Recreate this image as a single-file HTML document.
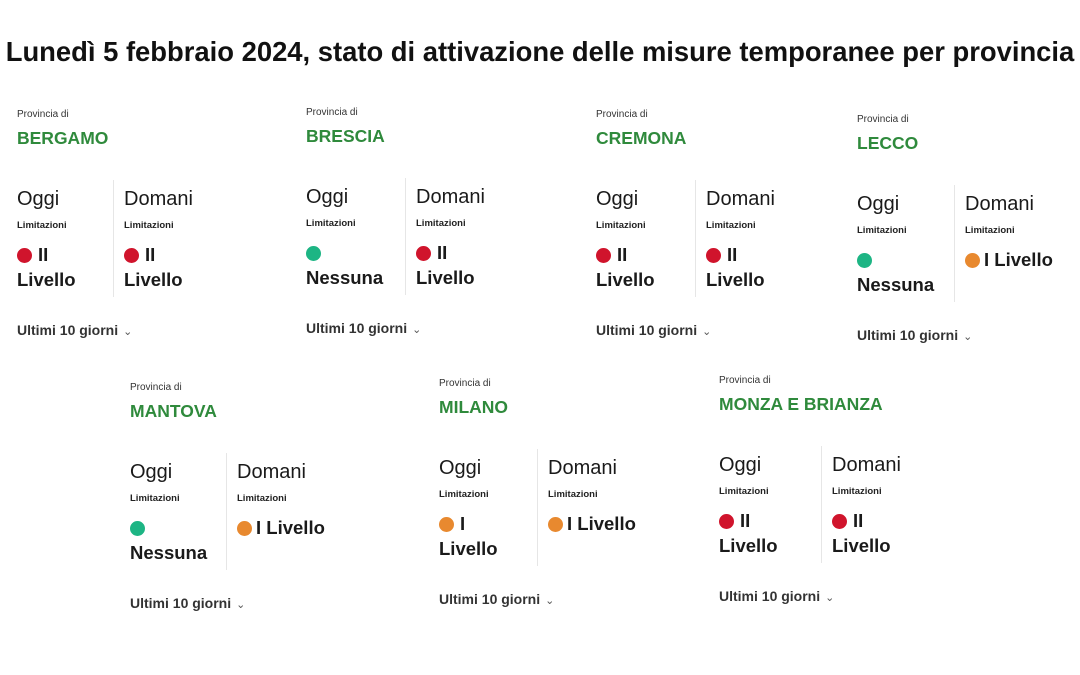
<!DOCTYPE html>
<html><head><meta charset="utf-8">
<style>
body{margin:0;width:1080px;height:675px;background:#fff;position:relative;overflow:hidden;font-family:"Liberation Sans",sans-serif;color:#1a1a1a}
.t{position:absolute;white-space:nowrap}
#title{left:0;width:1080px;text-align:center;top:36px;font-size:27.4px;font-weight:bold;letter-spacing:0px;color:#111}
.prov{font-size:10px;color:#333}
.name{font-size:17.5px;font-weight:bold;color:#2f8a3c}
.day{font-size:20px;color:#1a1a1a}
.lim{font-size:9.5px;font-weight:bold;color:#222}
.lvl{font-size:18.5px;font-weight:bold;color:#1a1a1a}
.dot{position:absolute;width:15px;height:15px;border-radius:50%}
.div{position:absolute;width:1px;background:#e6e6e6}
.ult{font-size:14px;font-weight:bold;color:#333}
.chev{font-size:11px;font-weight:normal;color:#555;margin-left:5px}
</style></head><body>
<div id="title" class="t">Lunedì 5 febbraio 2024, stato di attivazione delle misure temporanee per provincia</div>
<script>
const provinces=["BERGAMO","BRESCIA","CREMONA","LECCO","MANTOVA","MILANO","MONZA E BRIANZA"];
const todayStatus=["II2","none","II2","none","none","I2","II2"];
const tomorrowStatus=["II2","II2","II2","I1","I1","I1","II2"];
const cardX=[17,306,596,857,130,439,719];
const cardY=[115,113,115,120,388,384,381];
const domOff=[107,110,110,108,107,109,113];
const colors={red:"#d0142c",green:"#1db584",orange:"#e8892f"};
function txt(cls,x,yc,s,name,inter){
  const d=document.createElement('div');
  d.className='t '+cls;d.textContent=s;
  d.style.left=x+'px';d.style.top=(yc-12)+'px';d.style.height='24px';d.style.lineHeight='24px';
  
  
  document.body.appendChild(d);return d;
}
function dot(x,yc,c,name){
  const d=document.createElement('div');d.className='dot';
  d.style.left=x+'px';d.style.top=(yc-7.5)+'px';d.style.background=c;
  
  
  document.body.appendChild(d);
}
function status(st,x,y0,slug){
  const y1=y0+140,y2=y0+165;
  if(st==="none"){dot(x,y1,colors.green,slug+'-dot');txt('lvl',x,y2,'Nessuna',slug+'-level',false);}
  else if(st==="II2"){dot(x,y1,colors.red,slug+'-dot');txt('lvl',x+21,y1,'II',slug+'-level',false);txt('lvl',x,y2,'Livello',slug+'-level-2',false);}
  else if(st==="I2"){dot(x,y1,colors.orange,slug+'-dot');txt('lvl',x+21,y1,'I',slug+'-level',false);txt('lvl',x,y2,'Livello',slug+'-level-2',false);}
  else {dot(x,y1,colors.orange,slug+'-dot');txt('lvl',x+19,y1,'I Livello',slug+'-level',false);}
}
provinces.forEach((p,i)=>{
  const x=cardX[i],y=cardY[i],s=p.toLowerCase().replace(/ /g,'-');
  txt('prov',x,y,'Provincia di',s+'-province-label',false);
  txt('name',x,y+23,p,s+'-name',false);
  txt('day',x,y+84,'Oggi',s+'-today-title',false);
  txt('lim',x,y+111,'Limitazioni',s+'-today-limit-label',false);
  status(todayStatus[i],x,y,s+'-today');
  const dv=document.createElement('div');dv.className='div';
  dv.style.left=(x+domOff[i]-11)+'px';dv.style.top=(y+65)+'px';dv.style.height='117px';
  
  
  document.body.appendChild(dv);
  const dx=x+domOff[i];
  txt('day',dx,y+84,'Domani',s+'-tomorrow-title',false);
  txt('lim',dx,y+111,'Limitazioni',s+'-tomorrow-limit-label',false);
  status(tomorrowStatus[i],dx,y,s+'-tomorrow');
  const u=txt('ult',x,y+215,'Ultimi 10 giorni',s+'-last-10-days-toggle',true);
  const c=document.createElement('span');c.className='chev';c.textContent='\u2304';
  
  
  u.appendChild(c);
});
</script>
</body></html>
